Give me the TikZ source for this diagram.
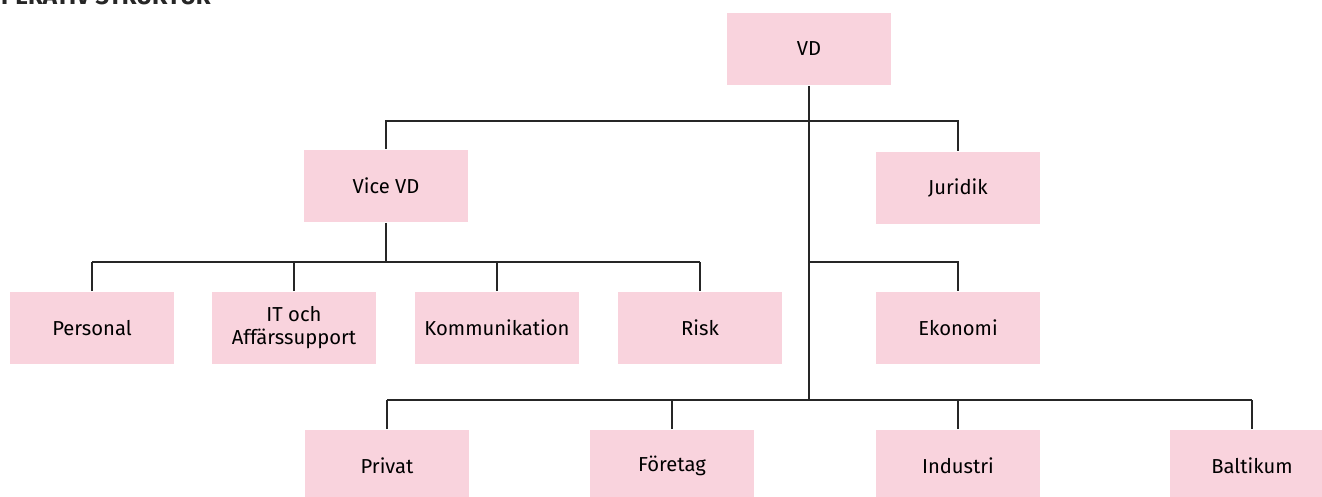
\documentclass[tikz,border=0pt]{standalone}
\usepackage{fontspec}
\setmainfont{Fira Sans}
\usetikzlibrary{positioning}
\definecolor{boxpink}{RGB}{249,211,221}

\begin{document}
\begin{tikzpicture}[x=0.02cm, y=-0.02cm, font=\fontsize{11.5}{13}\selectfont]
	\tikzstyle{unit}=[fill=boxpink, minimum width=3.28cm, minimum height=1.46cm, inner sep=0pt, align=center, text=black]
	\tikzstyle{line}=[draw=black!85, line width=0.8pt]
	\clip (0,0) rectangle (1322,497);
	%Title
	\node[anchor=base east, font=\bfseries\fontsize{13.7}{15}\selectfont, text=black!85] (title) at (217,5) {OPERATIV STRUKTUR};
	%Top
	\node[unit] (vd) at (809,49) {VD};
	%Second Row
	\node[unit] (vicevd) at (386,186) {Vice VD};
	\node[unit] (juridik) at (958,188) {Juridik};
	%Third Row
	\node[unit] (personal) at (92,328) {Personal};
	\node[unit] (it) at (294,328) {IT och\\Affärssupport};
	\node[unit] (kommunikation) at (497,328) {Kommunikation};
	\node[unit] (risk) at (700,328) {Risk};
	\node[unit] (ekonomi) at (958,328) {Ekonomi};
	%Fourth Row
	\node[unit] (privat) at (387,466) {Privat};
	\node[unit] (foretag) at (672,466) {Företag};
	\node[unit] (industri) at (958,466) {Industri};
	\node[unit] (baltikum) at (1252,466) {Baltikum};
	%Branch points
	\coordinate (top) at (809,121);
	\coordinate (mid) at (809,262);
	\coordinate (low) at (809,400);
	\coordinate (vbar) at (vicevd.south |- mid);
	%Lines
	\draw[line] (vd) -- (low);
	\draw[line] (vicevd.north) |- (top) -| (juridik.north);
	\draw[line] (vicevd) -- (vbar);
	\draw[line] (mid) -| (ekonomi.north);
	\draw[line] (personal.north |- vbar) -- (risk.north |- vbar);
	\foreach \n in {personal,it,kommunikation,risk}
		\draw[line] (\n.north) -- (\n.north |- vbar);
	\draw[line] (privat.north |- low) -- (baltikum.north |- low);
	\foreach \n in {privat,foretag,industri,baltikum}
		\draw[line] (\n.north) -- (\n.north |- low);
\end{tikzpicture}
\end{document}
